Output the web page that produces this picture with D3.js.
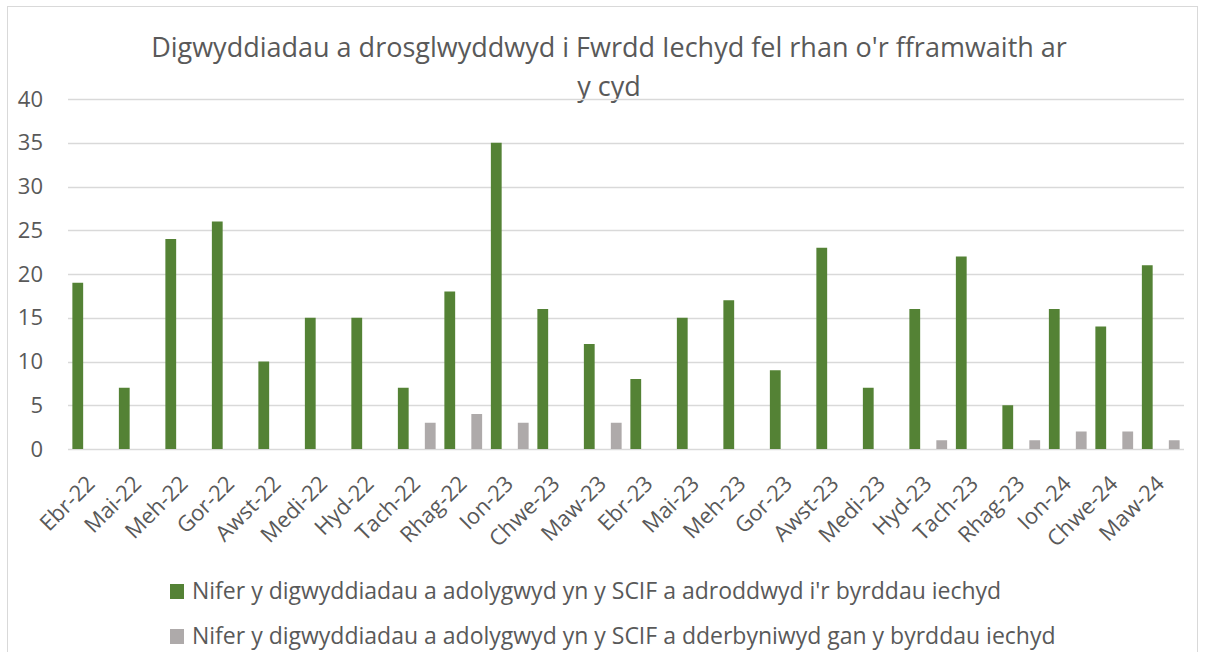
<!DOCTYPE html>
<html>
  <head>
    <meta charset="UTF-8">
    <title>Digwyddiadau</title>
    <script src="https://d3js.org/d3.v7.min.js"></script>
    <style>
      body { margin: 0; background: #fff; }
      text { font-family: "Open Sans", sans-serif; fill: #595959; }
    </style>
  </head>
  <body>
    <div id="graph"></div>
    <script>

const months = ["Ebr-22", "Mai-22", "Meh-22", "Gor-22", "Awst-22", "Medi-22", "Hyd-22", "Tach-22",
  "Rhag-22", "Ion-23", "Chwe-23", "Maw-23", "Ebr-23", "Mai-23", "Meh-23", "Gor-23", "Awst-23",
  "Medi-23", "Hyd-23", "Tach-23", "Rhag-23", "Ion-24", "Chwe-24", "Maw-24"];

const reported = [19, 7, 24, 26, 10, 15, 15, 7, 18, 35, 16, 12, 8, 15, 17, 9, 23, 7, 16, 22, 5, 16, 14, 21];
const accepted = [0, 0, 0, 0, 0, 0, 0, 3, 4, 3, 0, 3, 0, 0, 0, 0, 0, 0, 1, 0, 1, 2, 2, 1];

const yTicks = [0, 5, 10, 15, 20, 25, 30, 35, 40];

const seriesNames = [
  "Nifer y digwyddiadau a adolygwyd yn y SCIF a adroddwyd i'r byrddau iechyd",
  "Nifer y digwyddiadau a adolygwyd yn y SCIF a dderbyniwyd gan y byrddau iechyd"
];
const seriesColors = ["#548235", "#AEAAAA"];

const titleLines = ["Digwyddiadau a drosglwyddwyd i Fwrdd Iechyd fel rhan o'r fframwaith ar", "y cyd"];

const svgWidth = 1205;
const svgHeight = 652;

const margin = {top: 99, right: 21, bottom: 203, left: 68};
const chartWidth = svgWidth - margin.left - margin.right;
const chartHeight = svgHeight - margin.top - margin.bottom;

const svg = d3.select("#graph")
  .append("svg")
  .attr("width", svgWidth)
  .attr("height", svgHeight);

// outer chart frame
svg.append("rect")
  .attr("x", 7.5).attr("y", 6.5)
  .attr("width", 1190).attr("height", 700)
  .attr("fill", "none")
  .attr("stroke", "#d9d9d9");

svg.append("g")
  .selectAll("text")
  .data(titleLines)
  .enter()
  .append("text")
  .attr("x", 609)
  .attr("y", (d, i) => 57 + i * 39)
  .attr("text-anchor", "middle")
  .style("font-size", "27px")
  .text(d => d);

const chart = svg.append("g")
  .attr("transform", "translate(" + margin.left + "," + margin.top + ")");

const xScale = d3.scaleBand()
  .domain(months)
  .range([0, chartWidth]);

// three slots per month, the middle one stays empty
const slots = ["reported", "empty", "accepted"];
const step = xScale.bandwidth();
const xSub = d3.scaleBand()
  .domain(slots)
  .range([step * 0.065, step * 0.935])
  .paddingInner(0.2)
  .paddingOuter(0.1);

const yScale = d3.scaleLinear()
  .domain([0, 40])
  .range([chartHeight, 0]);

// gridlines
chart.append("g")
  .selectAll("line")
  .data(yTicks)
  .enter()
  .append("line")
  .attr("x1", 0)
  .attr("x2", chartWidth)
  .attr("y1", d => Math.round(yScale(d)) + 0.5)
  .attr("y2", d => Math.round(yScale(d)) + 0.5)
  .attr("stroke", "#d9d9d9")
  .attr("stroke-width", 1.5);

const yAxis = chart.append("g")
  .call(d3.axisLeft(yScale).tickValues(yTicks).tickSize(0).tickPadding(25));
yAxis.select(".domain").remove();
yAxis.selectAll("text")
  .style("font-size", "22px")
  .style("font-family", "'Open Sans', sans-serif")
  .attr("fill", "#595959");

const xAxis = chart.append("g")
  .attr("transform", "translate(0," + chartHeight + ")")
  .call(d3.axisBottom(xScale).tickSize(0));
xAxis.select(".domain").remove();
xAxis.selectAll("text")
  .style("font-size", "22px")
  .style("font-family", "'Open Sans', sans-serif")
  .attr("fill", "#595959")
  .attr("text-anchor", "end")
  .attr("dy", 0)
  .attr("y", 0)
  .attr("transform", "translate(5,36) rotate(-45)");

const rows = months.map((m, i) => ({month: m, reported: reported[i], accepted: accepted[i]}));

[["reported", 0], ["accepted", 1]].forEach(([key, si]) => {
  chart.append("g")
    .selectAll("rect")
    .data(rows)
    .enter()
    .append("rect")
    .attr("x", d => xScale(d.month) + xSub(key))
    .attr("y", d => yScale(d[key]))
    .attr("width", xSub.bandwidth())
    .attr("height", d => chartHeight - yScale(d[key]))
    .attr("fill", seriesColors[si]);
});

// legend
const legend = svg.append("g")
  .selectAll("g")
  .data(seriesNames)
  .enter()
  .append("g")
  .attr("transform", (d, i) => "translate(170," + (584 + i * 45) + ")");

legend.append("rect")
  .attr("width", 14)
  .attr("height", 15)
  .attr("fill", (d, i) => seriesColors[i]);

legend.append("text")
  .attr("x", 22)
  .attr("y", 15)
  .style("font-size", "23px")
  .text(d => d);

    </script>
  </body>
</html>
